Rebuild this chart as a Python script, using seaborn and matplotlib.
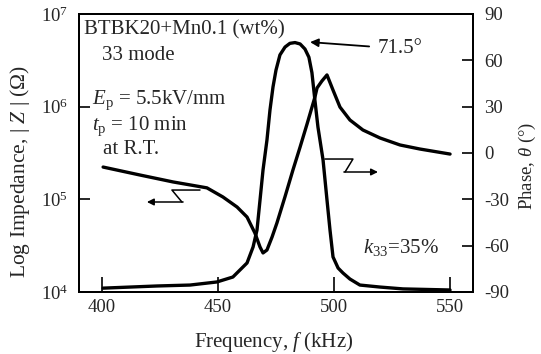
import numpy as np
import pandas as pd
import matplotlib
matplotlib.use("Agg")
import matplotlib.pyplot as plt
from matplotlib.ticker import FixedLocator, NullLocator
import seaborn as sns

# Impedance spectrum (kHz, ohm)
freq_z = [400.4, 416.3, 430.6, 445.2, 452.1, 458.2, 462.5, 465.9, 468.1, 469.4,
          471.1, 473.3, 475.4, 478.9, 482.3, 485.4, 488.4, 491.8, 492.7, 494.8,
          497.0, 499.6, 502.6, 506.9, 512.5, 519.9, 528.5, 537.1, 550.1]
impedance = [2.23e5, 1.83e5, 1.54e5, 1.33e5, 1.06e5, 8.26e4, 6.44e4, 4.33e4, 3.06e4, 2.64e4,
             2.84e4, 3.92e4, 5.56e4, 1.07e5, 2.07e5, 3.67e5, 6.5e5, 1.27e6, 1.59e6, 1.89e6,
             2.20e6, 1.51e6, 9.9e5, 7.18e5, 5.6e5, 4.59e5, 3.86e5, 3.49e5, 3.08e5]

# Phase spectrum (kHz, degrees)
freq_p = [400.4, 423.7, 437.9, 449.5, 456.4, 462.5, 465.1, 466.8, 468.1, 469.4,
          471.1, 472.4, 473.7, 475.0, 476.7, 478.9, 481.0, 483.2, 485.4, 487.5,
          489.2, 490.5, 491.8, 493.1, 495.3, 497.0, 498.3, 499.6, 501.8, 503.9,
          506.9, 511.2, 519.9, 529.8, 550.1]
phase = [-87.5, -86.1, -85.5, -83.5, -80.3, -71.2, -60.9, -49.9, -30.5, -11.0,
         8.4, 27.8, 42.7, 53.7, 63.5, 68.6, 71.0, 71.5, 70.6, 67.3,
         62.0, 52.0, 34.0, 16.8, -4.5, -30.4, -49.9, -67.3, -74.5, -77.7,
         -81.6, -85.5, -86.8, -88.0, -88.7]

freq_ticks = [400, 450, 500, 550]
z_ticks = [1e4, 1e5, 1e6, 1e7]
phase_ticks = [-90, -60, -30, 0, 30, 60, 90]

sns.set_style("ticks")
plt.rcParams["font.family"] = ["Liberation Serif", "DejaVu Serif"]
plt.rcParams["mathtext.fontset"] = "custom"
plt.rcParams["mathtext.rm"] = "Liberation Serif"
plt.rcParams["mathtext.it"] = "Liberation Serif:italic"
plt.rcParams["axes.unicode_minus"] = False

fs_tick = 13.5
fs_note = 15
fig = plt.figure(figsize=(5.41, 3.54), dpi=100)
ax = fig.add_axes([79 / 541, 1 - 292 / 354, 394 / 541, 278 / 354])
ax2 = ax.twinx()

df_z = pd.DataFrame({"f": freq_z, "Z": impedance})
df_p = pd.DataFrame({"f": freq_p, "theta": phase})

sns.lineplot(data=df_z, x="f", y="Z", ax=ax, color="black", lw=2.4, sort=False)
sns.lineplot(data=df_p, x="f", y="theta", ax=ax2, color="black", lw=2.4, sort=False)
for ln in ax.lines + ax2.lines:
    ln.set_solid_joinstyle("round")
    ln.set_solid_capstyle("round")

ax.set_yscale("log")
ax.set_xlim(390, 560)
ax.set_ylim(1e4, 1e7)
ax2.set_ylim(-90, 90)

ax.xaxis.set_major_locator(FixedLocator(freq_ticks))
ax.yaxis.set_major_locator(FixedLocator(z_ticks))
ax.yaxis.set_minor_locator(NullLocator())
ax2.yaxis.set_major_locator(FixedLocator(phase_ticks))

for a in (ax, ax2):
    for s in a.spines.values():
        s.set_linewidth(1.4)
        s.set_color("black")
ax.tick_params(axis="x", direction="in", length=11, width=1.4, labelsize=fs_tick, pad=5)
ax.tick_params(axis="y", direction="in", length=8, width=1.4, labelsize=fs_tick, pad=8)
ax2.tick_params(axis="y", direction="in", length=8, width=1.4, labelsize=fs_tick, pad=8)

ax.set_xlabel("Frequency, $f$ (kHz)", fontsize=15)
ax.set_ylabel("Log Impedance, | $Z$ | (Ω)", fontsize=15.5)
ax2.set_ylabel(r"Phase, $\theta$ (°)", fontsize=13.5)
ax.xaxis.set_label_coords(0.495, -0.137)
ax.yaxis.set_label_coords(-0.119, 0.432)
ax2.yaxis.set_label_coords(1.112, 0.453)

# Sample and measurement notes
tk = dict(transform=ax.transAxes, fontsize=fs_note, ha="left", va="center")
ax.text(5 / 394, 1 - 16 / 278, "BTBK20+Mn0.1 (wt%)", **tk)
ax.text(23 / 394, 1 - 41 / 278, "33 mode", **tk)
ax.text(13 / 394, 1 - 86 / 278, r"$E_\mathrm{p}$ = 5.5kV/mm", **tk)
ax.text(13 / 394, 1 - 112 / 278, r"$t_\mathrm{p}$ = 10 min", **tk)
ax.text(24 / 394, 1 - 136 / 278, "at R.T.", **tk)
ax.text(284 / 394, 1 - 234 / 278, r"$k_{33}$=35%", **tk)

# Peak phase callout
ax2.annotate("71.5°", xy=(489.7, 71.8), xytext=(519.0, 67.5), fontsize=fs_note,
             ha="left", va="center",
             arrowprops=dict(arrowstyle="-|>", color="black", lw=1.3,
                             shrinkB=0, shrinkA=4, mutation_scale=12))

# Axis pointers for each curve
ax.plot([442.2, 430.1, 434.4], [1.26e5, 1.26e5, 9.36e4], color="black", lw=1.1)
ax.annotate("", xy=(419.3, 9.36e4), xytext=(434.9, 9.36e4),
            arrowprops=dict(arrowstyle="-|>", color="black", lw=1.1,
                            shrinkA=0, shrinkB=0, mutation_scale=10))
ax2.plot([496.1, 508.2, 504.8], [-3.9, -3.9, -12.3], color="black", lw=1.1)
ax2.annotate("", xy=(519.0, -12.3), xytext=(504.3, -12.3),
             arrowprops=dict(arrowstyle="-|>", color="black", lw=1.1,
                             shrinkA=0, shrinkB=0, mutation_scale=10))

fig.savefig("out.png", dpi=100)
